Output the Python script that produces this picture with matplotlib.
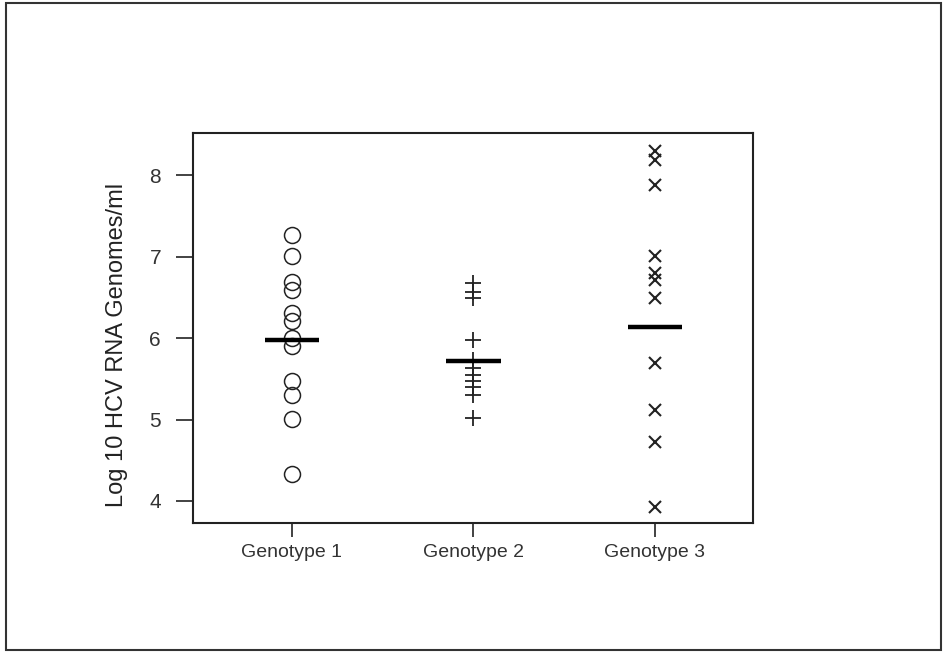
#!/usr/bin/env python3
import matplotlib
matplotlib.use('Agg')
import matplotlib.pyplot as plt
from matplotlib.patches import Rectangle

plt.rcParams['font.family'] = ['Liberation Sans', 'DejaVu Sans']

genotypes = ['Genotype 1', 'Genotype 2', 'Genotype 3']
geno1 = [7.27, 7.01, 6.69, 6.59, 6.31, 6.21, 6.00, 5.90, 5.48, 5.30, 5.01, 4.33]
geno2 = [6.68, 6.57, 6.49, 5.98, 5.73, 5.63, 5.55, 5.48, 5.40, 5.30, 5.02]
geno3 = [8.30, 8.19, 7.88, 7.01, 6.80, 6.71, 6.49, 5.69, 5.12, 4.73, 3.93]
centres = [5.98, 5.72, 6.14]
yticks = [4, 5, 6, 7, 8]

ink = '#222222'
fig = plt.figure(figsize=(9.45, 6.52), dpi=100)
fig.patch.set_facecolor('white')
# frame round the whole picture
fig.add_artist(Rectangle((0.0063, 0.003), 0.989, 0.992, transform=fig.transFigure,
                         fill=False, edgecolor='#333333', linewidth=1.5))

ax = fig.add_axes([0.2042, 0.1979, 0.5926, 0.598])

ax.plot([1] * len(geno1), geno1, linestyle='none', marker='o', markersize=11.5,
        markerfacecolor='none', markeredgecolor=ink, markeredgewidth=1.1)
ax.plot([2] * len(geno2), geno2, linestyle='none', marker='+', markersize=12,
        color=ink, markeredgewidth=1.3)
ax.plot([3] * len(geno3), geno3, linestyle='none', marker='x', markersize=8,
        color=ink, markeredgewidth=1.5)

for i, c in enumerate(centres):
    ax.plot([i + 1 - 0.15, i + 1 + 0.15], [c, c], color='black', linewidth=3.2,
            solid_capstyle='butt')

ax.set_xlim(0.455, 3.54)
ax.set_ylim(3.73, 8.52)
ax.set_xticks([1, 2, 3])
ax.set_xticklabels(genotypes, color='#333333')
ax.set_yticks(yticks)

for s in ax.spines.values():
    s.set_linewidth(1.5)
    s.set_color(ink)

ax.tick_params(axis='y', length=12, width=1.2, color=ink, pad=11, labelsize=15,
               labelcolor='#333333')
ax.tick_params(axis='x', length=10, width=1.2, color=ink, pad=5, labelsize=14)

ax.set_ylabel('Log 10 HCV RNA Genomes/ml', fontsize=17, color=ink)
ax.yaxis.set_label_coords(-0.116, 0.456)

fig.savefig('out.png', dpi=100)
